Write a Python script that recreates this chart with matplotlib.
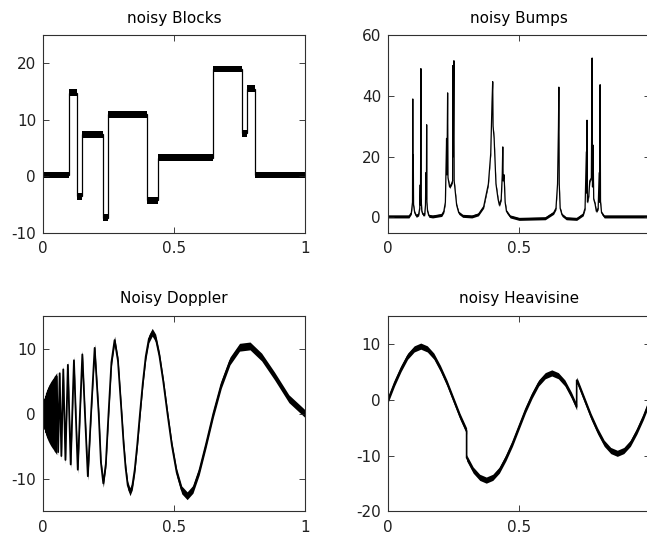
import matplotlib
matplotlib.use("Agg")
import matplotlib.pyplot as plt


# values (x runs 0..1 in every panel)

# noisy Blocks: jump positions and the level of each block
blocks_edges = [0.0, 0.098, 0.13, 0.15, 0.228, 0.247, 0.397, 0.438, 0.647, 0.758, 0.777, 0.81, 1.0]
blocks_levels = [0.2, 14.8, -3.6, 7.4, -7.4, 11.0, -4.3, 3.3, 19.0, 7.6, 15.5, 0.2]

# noisy Bumps: points along the trace (spikes and their shoulders)
bumps_t = [0.0, 0.080, 0.089, 0.0935, 0.0945, 0.0955, 0.0965, 0.0975, 0.102, 0.108,
           0.117, 0.121, 0.123, 0.124, 0.1255, 0.1265, 0.129, 0.133,
           0.140, 0.143, 0.1445, 0.1465, 0.1475, 0.1485, 0.151, 0.156,
           0.170, 0.205, 0.213, 0.219, 0.2235, 0.225, 0.2275, 0.229, 0.235, 0.242,
           0.2465, 0.2475, 0.249, 0.2515, 0.2525, 0.256, 0.262, 0.270, 0.285,
           0.320, 0.345, 0.365, 0.383, 0.392, 0.397, 0.3995, 0.401, 0.405, 0.412,
           0.420, 0.425, 0.432, 0.436, 0.438, 0.4395, 0.443, 0.447, 0.452, 0.466,
           0.500, 0.600, 0.632, 0.641, 0.647, 0.6505, 0.652, 0.6535, 0.657, 0.664, 0.680, 0.720,
           0.745, 0.752, 0.757, 0.7585, 0.7595, 0.761, 0.766, 0.770, 0.776, 0.779,
           0.7805, 0.7825, 0.785, 0.790, 0.795, 0.802, 0.806, 0.8075, 0.8095, 0.811,
           0.815, 0.825, 1.0]
bumps_y = [0.3, 0.3, 1.5, 5.0, 39.0, 8.0, 20.5, 4.0, 1.5, 0.5,
           1.0, 3.0, 10.7, 4.0, 49.0, 6.0, 2.0, 1.0,
           1.0, 4.0, 14.7, 6.0, 30.5, 5.0, 2.0, 0.5,
           0.3, 0.8, 2.0, 5.0, 26.0, 14.0, 41.0, 13.0, 10.0, 11.0,
           12.0, 50.0, 20.0, 51.6, 12.0, 9.0, 4.0, 1.5, 0.5,
           0.3, 1.0, 3.5, 11.0, 21.0, 38.0, 44.7, 30.0, 26.0, 11.0,
           6.0, 4.0, 6.0, 14.0, 23.2, 12.0, 14.0, 5.0, 2.0, 0.3,
           -0.5, -0.3, 1.5, 3.0, 11.0, 29.8, 42.9, 11.0, 3.0, 0.8, -0.3, -0.5,
           1.0, 3.0, 21.6, 8.0, 32.0, 5.0, 7.0, 12.0, 13.0, 52.5,
           10.0, 23.8, 6.0, 4.5, 2.0, 3.0, 14.7, 5.0, 43.7, 5.0,
           1.5, 0.3, 0.3]

# Noisy Doppler: turning points in the fast part, denser points in the slow waves
doppler_t = [0.0, 0.0006, 0.0019, 0.0032, 0.0045, 0.006, 0.0075, 0.0092, 0.0109, 0.0127,
             0.0146, 0.0167, 0.0189, 0.0212, 0.0237, 0.0264, 0.0292, 0.0324, 0.0357, 0.0394,
             0.0433, 0.0477, 0.0524, 0.0577, 0.0635, 0.070, 0.0773, 0.0855, 0.0948, 0.1056,
             0.118, 0.125, 0.1326, 0.1409, 0.150, 0.160, 0.171, 0.1833, 0.1971, 0.2125,
             0.221, 0.230, 0.2397, 0.250, 0.2611, 0.2731, 0.286, 0.300,
             0.3074, 0.3152, 0.3233, 0.3318, 0.3407, 0.350, 0.3598, 0.370,
             0.3808, 0.3921, 0.404, 0.4167, 0.43, 0.4441, 0.4591, 0.475,
             0.4919, 0.510, 0.5293, 0.550, 0.5722, 0.5962, 0.622, 0.650,
             0.6804, 0.7136, 0.750, 0.790, 0.8342, 0.8833, 0.9382, 1.0]
doppler_y = [0.0, -0.6, 1.1, -1.4, 1.7, -2.0, 2.2, -2.4, 2.6, -2.9,
             3.1, -3.3, 3.5, -3.7, 3.9, -4.1, 4.3, -4.5, 4.7, -4.9,
             5.2, -5.4, 5.7, -5.9, 6.2, -6.5, 6.8, -7.1, 7.5, -7.8,
             8.2, 0.0, -8.6, 0.0, 9.1, 0.0, -9.6, 0.0, 10.1, 0.0,
             -7.5, -10.7, -7.7, 0.0, 7.9, 11.3, 8.1, 0.0,
             -4.5, -8.3, -11.0, -12.0, -11.1, -8.6, -4.7, 0.0,
             4.7, 8.8, 11.5, 12.5, 11.6, 8.9, 4.9, 0.0,
             -4.9, -9.0, -11.7, -12.6, -11.6, -8.8, -4.7, 0.0,
             4.5, 8.1, 10.2, 10.4, 8.7, 5.8, 2.3, 0.0]

# noisy Heavisine: points along the trace, the two jumps are repeated x values
heavi_t = [0.0, 0.025, 0.05, 0.075, 0.1, 0.125, 0.15, 0.175, 0.2, 0.225,
           0.25, 0.275, 0.3, 0.3, 0.325, 0.35, 0.375, 0.4, 0.425, 0.45,
           0.475, 0.5, 0.525, 0.55, 0.575, 0.6, 0.625, 0.65, 0.675, 0.7,
           0.72, 0.72, 0.725, 0.75, 0.775, 0.8, 0.825, 0.85, 0.875, 0.9,
           0.925, 0.95, 0.975, 1.0]
heavi_y = [0.0, 3.0, 5.6, 7.8, 9.1, 9.6, 9.1, 7.8, 5.6, 3.0,
           0.0, -3.0, -5.6, -10.4, -12.6, -13.9, -14.4, -13.9, -12.6, -10.4,
           -7.8, -4.8, -1.8, 0.8, 3.0, 4.3, 4.8, 4.3, 3.0, 0.8,
           -1.3, 3.5, 3.0, 0.0, -3.0, -5.6, -7.8, -9.1, -9.6, -9.1,
           -7.8, -5.6, -3.0, 0.0]

# the fast start of the doppler trace shows as one solid black mass up to here
doppler_solid_until = 0.055


FONT = "DejaVu Sans"
FS = 11


# sets up one matlab looking panel (box, inward ticks on all four sides)
def style_axes(ax, title, ylim, yticks, xlabels):
    ax.set_xlim(0, 1)
    ax.set_ylim(*ylim)
    ax.set_xticks([0, 0.5, 1])
    ax.set_xticklabels(xlabels)
    ax.set_yticks(yticks)
    ax.set_yticklabels([str(v) for v in yticks])
    ax.tick_params(direction="in", top=True, right=True, length=4, width=0.6,
                   labelsize=FS, colors="#202020")
    ax.tick_params(axis="x", pad=6)
    ax.tick_params(axis="y", pad=5)
    for s in ax.spines.values():
        s.set_linewidth(0.8)
        s.set_color("#303030")
    ax.set_title(title, fontsize=FS, family=FONT, pad=9)


# draws a trace with a black band round it that stands in for the noise
def noisy_trace(ax, x, y, half, lw=1.0):
    ax.plot(x, y, color="k", lw=lw)
    ax.fill_between(x, [v - half for v in y], [v + half for v in y], color="k", lw=0)


def main():
    plt.rcParams["font.family"] = FONT

    fig = plt.figure(figsize=(6.47, 5.42), dpi=100)

    # positions, the right column runs off the edge
    axBlocks = fig.add_axes([0.0665, 0.571, 0.405, 0.364])
    axBumps = fig.add_axes([0.5997, 0.571, 0.405, 0.364])
    axDoppler = fig.add_axes([0.0665, 0.0565, 0.405, 0.3605])
    axHeavi = fig.add_axes([0.5997, 0.0565, 0.405, 0.3605])

    # blocks: step trace plus a band for the noise
    stepY = blocks_levels + blocks_levels[-1:]
    axBlocks.stairs(blocks_levels, blocks_edges, baseline=None, color="k", lw=0.9)
    axBlocks.fill_between(blocks_edges, [v - 0.6 for v in stepY], [v + 0.6 for v in stepY],
                          step="post", color="k", lw=0)
    style_axes(axBlocks, "noisy Blocks", (-10, 25), [-10, 0, 10, 20], ["0", "0.5", "1"])

    # the "1" of the right column sits past the figure edge, as in the picture
    noisy_trace(axBumps, bumps_t, bumps_y, 0.5, lw=0.9)
    style_axes(axBumps, "noisy Bumps", (-5, 60), [0, 20, 40, 60], ["0", "0.5", ""])

    noisy_trace(axDoppler, doppler_t, doppler_y, 0.6, lw=1.3)
    fastT = [t for t in doppler_t if t <= doppler_solid_until]
    fastY = [abs(v) + 0.6 for v in doppler_y[:len(fastT)]]
    axDoppler.fill_between(fastT, [-v for v in fastY], fastY, color="k", lw=0)
    style_axes(axDoppler, "Noisy Doppler", (-15, 15), [-10, 0, 10], ["0", "0.5", "1"])

    noisy_trace(axHeavi, heavi_t, heavi_y, 0.55, lw=1.2)
    style_axes(axHeavi, "noisy Heavisine", (-20, 15), [-20, -10, 0, 10], ["0", "0.5", ""])

    fig.savefig("out.png", dpi=100)


if __name__ == "__main__":
    main()
